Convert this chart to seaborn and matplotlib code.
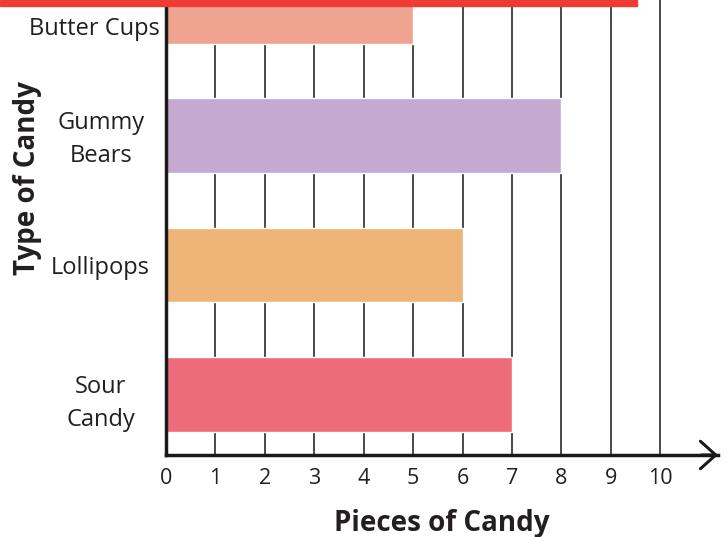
import pandas as pd
import seaborn as sns
import matplotlib.pyplot as plt
from matplotlib.patches import Rectangle

candy = ['Butter Cups', 'Gummy\nBears', 'Lollipops', 'Sour\nCandy']
pieces = [5, 8, 6, 7]
bar_colors = ['#EFA491', '#C6A9D1', '#EFB578', '#EE6B7A']
xticks = list(range(0, 11))

data = pd.DataFrame({'candy': candy, 'pieces': pieces})

sns.set_style('white')
plt.rcParams['font.family'] = ['Open Sans', 'DejaVu Sans']

fig = plt.figure(figsize=(7.28, 5.37), dpi=100)
ax = fig.add_axes([166 / 728, 1 - 455 / 537, 552 / 728, 455 / 537])

# vertical grid lines under the bars
for x in xticks[1:]:
    ax.axvline(x, color='#2a2a2a', lw=1.2, zorder=0)

sns.barplot(data=data, x='pieces', y='candy', hue='candy', palette=bar_colors,
            order=candy, orient='h', width=0.58, legend=False, saturation=1,
            ax=ax, zorder=2)

ax.set_xlim(0, 11.17)
ax.set_ylim(3.47, -0.05)

sns.despine(ax=ax, top=True, right=True)
for s in ['left', 'bottom']:
    ax.spines[s].set_linewidth(2.5)
    ax.spines[s].set_color('#1a1a1a')
    ax.spines[s].set_zorder(3)

ax.set_xticks(xticks)
ax.set_xticklabels([str(t) for t in xticks], fontsize=15.5, color='#231f20')
ax.tick_params(axis='x', length=0, pad=9)

# butter cups label sits a bit further left in the original
ylabels = ['Butter Cups  '] + candy[1:]
ax.set_yticks([0.15, 0.97, 2, 3.01])
ax.set_yticklabels(ylabels, fontsize=17, color='#231f20', ha='center',
                   multialignment='center', linespacing=1.5)
ax.tick_params(axis='y', length=0, pad=47)

ax.set_xlabel('Pieces of Candy', fontsize=20, fontweight='bold', color='#231f20',
              va='center')
ax.xaxis.set_label_coords(0.5, -69 / 455)
ax.set_ylabel('Type of Candy', fontsize=20, fontweight='bold', color='#231f20',
              va='center')
ax.yaxis.set_label_coords(-138 / 552, (455 - 178) / 455)

# arrow head on the x axis
ax.annotate('', xy=(1.0, 0), xytext=(0.97, 0), xycoords='axes fraction',
            arrowprops=dict(arrowstyle='->, head_length=0.5, head_width=0.45',
                            lw=2.2, color='#1a1a1a', mutation_scale=22,
                            shrinkA=0, shrinkB=0),
            annotation_clip=False, zorder=4)

# red banner edge cut at top
fig.patches.append(Rectangle((0, 1 - 6 / 537), 637 / 728, 6 / 537,
                             transform=fig.transFigure, color='#EE3B33',
                             zorder=5))

fig.savefig('out.png', dpi=100)
